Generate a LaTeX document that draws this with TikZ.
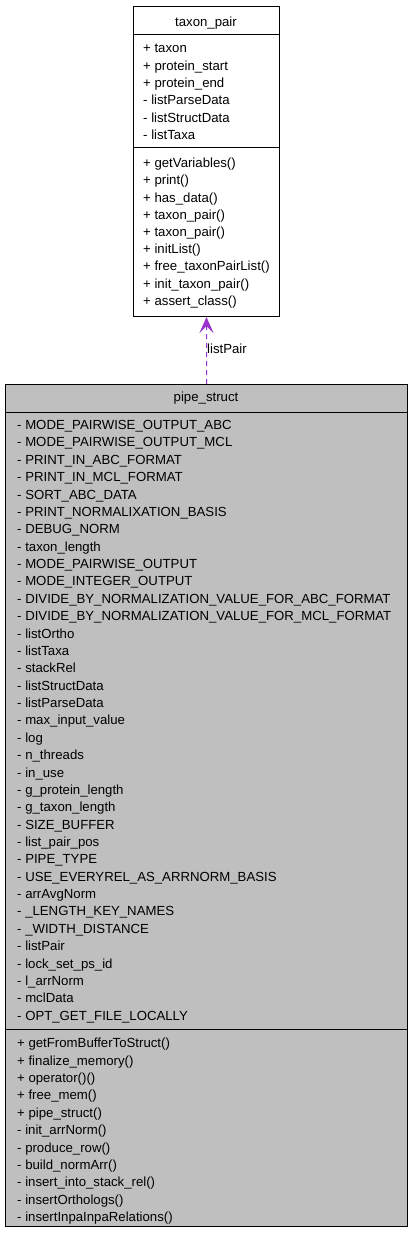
\documentclass[tikz,border=0pt]{standalone}
\usepackage{fontspec}
\setmainfont{Liberation Sans}
\usetikzlibrary{arrows.meta}
\definecolor{edgepurple}{HTML}{9A32CD}
\definecolor{boxgray}{HTML}{BFBFBF}
\tikzset{
  classbox/.style={draw=black, line width=1bp, anchor=north west, inner sep=0pt},
  member/.style={anchor=base west, inner sep=0pt, font=\fontsize{13.2bp}{15bp}\selectfont},
  title/.style={anchor=base, inner sep=0pt, font=\fontsize{13.2bp}{15bp}\selectfont},
  sepline/.style={draw=black, line width=1bp},
  usage/.style={draw=edgepurple, line width=1bp, dash pattern=on 5bp off 4bp,
    -{Stealth[length=16bp, width=14bp, inset=7bp, fill=edgepurple, sharp]}},
}
\begin{document}
\begin{tikzpicture}[x=1bp, y=-1bp]
\useasboundingbox (0,0) rectangle (413,1237);
% taxon_pair box
\node[classbox, fill=white, minimum width=146bp, minimum height=310bp] (tp) at (133,6) {};
\draw[sepline] (133,34) -- (279,34);
\draw[sepline] (133,147) -- (279,147);
\node[title] (tptitle) at (206,26.5) {taxon\_pair};
\foreach \t [count=\i from 0] in {+ taxon, + protein\_start, + protein\_end, - listParseData, - listStructData, - listTaxa}
  \node[member] (tpa\i) at (143,{48+4.6+17.4*\i}) {\t};
\foreach \t [count=\i from 0] in {+ getVariables(), + print(), + has\_data(), + taxon\_pair(), + taxon\_pair(), + initList(), + free\_taxonPairList(), + init\_taxon\_pair(), + assert\_class()}
  \node[member] (tpm\i) at (143,{163+4.6+17.2*\i}) {\t};
% pipe_struct box
\node[classbox, fill=boxgray, minimum width=402bp, minimum height=842bp] (ps) at (5,384) {};
\draw[sepline] (5,412) -- (407,412);
\draw[sepline] (5,1029) -- (407,1029);
\node[title] (pstitle) at (206,401.5) {pipe\_struct};
\foreach \t [count=\i from 0] in {- MODE\_PAIRWISE\_OUTPUT\_ABC, - MODE\_PAIRWISE\_OUTPUT\_MCL, - PRINT\_IN\_ABC\_FORMAT, - PRINT\_IN\_MCL\_FORMAT, - SORT\_ABC\_DATA, - PRINT\_NORMALIXATION\_BASIS, - DEBUG\_NORM, - taxon\_length, - MODE\_PAIRWISE\_OUTPUT, - MODE\_INTEGER\_OUTPUT, - DIVIDE\_BY\_NORMALIZATION\_VALUE\_FOR\_ABC\_FORMAT, - DIVIDE\_BY\_NORMALIZATION\_VALUE\_FOR\_MCL\_FORMAT, - listOrtho, - listTaxa, - stackRel, - listStructData, - listParseData, - max\_input\_value, - log, - n\_threads, - in\_use, - g\_protein\_length, - g\_taxon\_length, - SIZE\_BUFFER, - list\_pair\_pos, - PIPE\_TYPE, - USE\_EVERYREL\_AS\_ARRNORM\_BASIS, - arrAvgNorm, - \_LENGTH\_KEY\_NAMES, - \_WIDTH\_DISTANCE, - listPair, - lock\_set\_ps\_id, - l\_arrNorm, - mclData, - OPT\_GET\_FILE\_LOCALLY}
  \node[member] (psa\i) at (17,{425+4.6+17.37*\i}) {\t};
\foreach \t [count=\i from 0] in {+ getFromBufferToStruct(), + finalize\_memory(), + operator()(), + free\_mem(), + pipe\_struct(), - init\_arrNorm(), - produce\_row(), - build\_normArr(), - insert\_into\_stack\_rel(), - insertOrthologs(), - insertInpaInpaRelations()}
  \node[member] (psm\i) at (17,{1043+4.6+17.4*\i}) {\t};
% usage connector
\draw[usage] (ps.north) -- (tp.south);
\node[member] (lbl) at (207,353.5) {listPair};
\end{tikzpicture}
\end{document}
